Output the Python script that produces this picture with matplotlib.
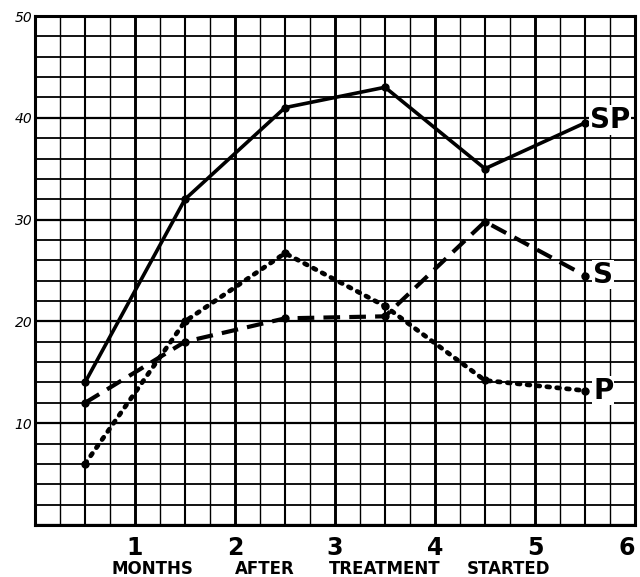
import matplotlib
matplotlib.use("Agg")
import matplotlib.pyplot as plt
import numpy as np

months = [0.5, 1.5, 2.5, 3.5, 4.5, 5.5]
sp_values = [14, 32, 41, 43, 35, 39.5]
s_values = [12, 18, 20.3, 20.5, 29.8, 24.5]
p_values = [6, 20, 26.7, 21.5, 14.2, 13.2]
series_labels = ["SP", "S", "P"]
x_ticks = [1, 2, 3, 4, 5, 6]
y_ticks = [10, 20, 30, 40, 50]
x_label_words = ["MONTHS", "AFTER", "TREATMENT", "STARTED"]

fig = plt.figure(figsize=(6.4, 5.77), dpi=100)
ax = fig.add_axes([35/640, 1-525/577, 600/640, (525-16)/577])
ax.set_xlim(0, 6)
ax.set_ylim(0, 50)

# grid
for xv in np.arange(0, 6.01, 0.25):
    if abs(xv - round(xv)) < 1e-6:
        lw = 2.1
    elif abs(xv*2 - round(xv*2)) < 1e-6:
        lw = 1.5
    else:
        lw = 1.0
    ax.axvline(xv, color="black", lw=lw, zorder=1)
for yv in np.arange(0, 50.01, 2):
    lw = 1.6 if yv % 10 == 0 else 1.3
    ax.axhline(yv, color="black", lw=lw, zorder=1)

ax.plot(months, sp_values, color="black", lw=2.6, solid_capstyle="round",
        marker="o", ms=5, zorder=3)
ax.plot(months, s_values, color="black", lw=3.0, linestyle=(0, (4, 2.2)),
        marker="o", ms=5, zorder=3)
ax.plot(months, p_values, color="black", lw=3.4, linestyle=(0, (0.6, 1.5)),
        dash_capstyle="round", marker="o", ms=5, zorder=3)

label_pos = [(5.55, 39.8), (5.58, 24.6), (5.58, 13.2)]
for lab, (lx, ly) in zip(series_labels, label_pos):
    ax.text(lx, ly, lab, fontsize=20, fontweight="bold",
            va="center", ha="left", family="DejaVu Sans Condensed", zorder=4,
            bbox=dict(facecolor="white", edgecolor="none", pad=0.5))

for sp in ax.spines.values():
    sp.set_linewidth(2.2)

ax.set_xticks(x_ticks)
ax.set_xticklabels([str(t) for t in x_ticks], fontsize=17, fontweight="bold",
                   family="DejaVu Sans Condensed")
ax.get_xticklabels()[-1].set_horizontalalignment("right")
ax.set_yticks(y_ticks)
ax.set_yticklabels([str(t) for t in y_ticks], fontsize=10, style="italic")
ax.tick_params(axis="x", length=0, pad=8)
ax.tick_params(axis="y", length=0, pad=2)

word_centers = [152, 265, 385, 509]
for w, cx in zip(x_label_words, word_centers):
    fig.text(cx/640, 1-574/577, w, fontsize=12, fontweight="bold",
             ha="center", va="baseline")

fig.savefig("out.png", dpi=100)
